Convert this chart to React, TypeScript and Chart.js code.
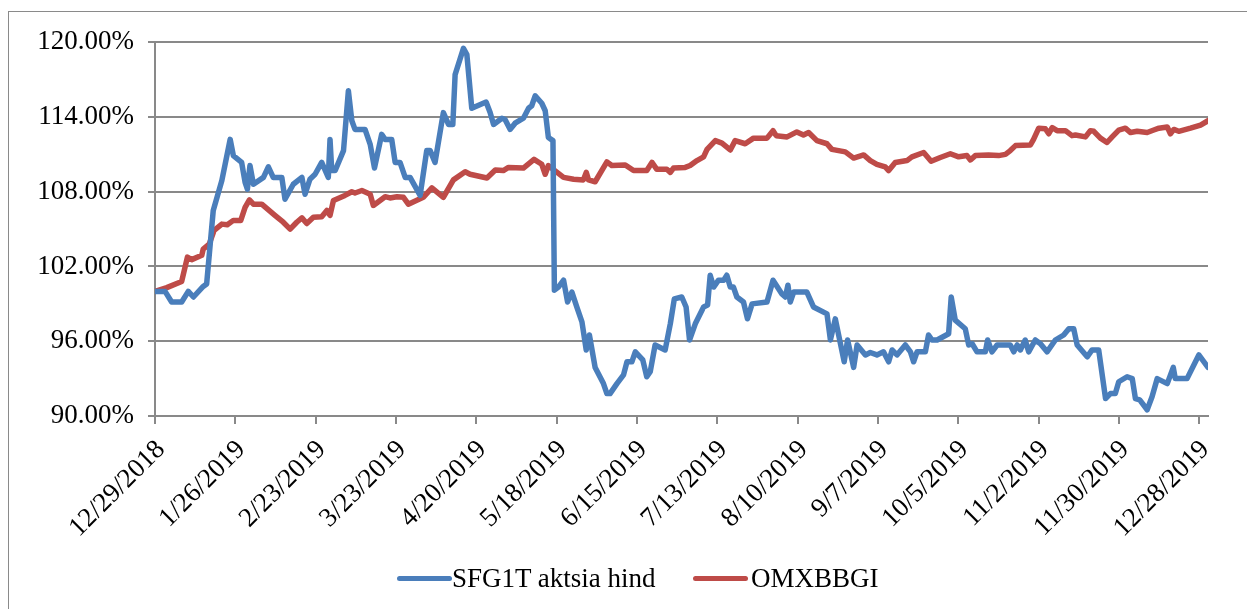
import React, { useEffect, useRef } from "react";
import { Chart, registerables } from "chart.js";

Chart.register(...registerables);

// Day offsets counted from 12/29/2018
const seriesNames = ["SFG1T aktsia hind", "OMXBBGI"];
const seriesColors = ["#4A7EBB", "#BE4B48"];

const tickLabels = [
  "12/29/2018", "1/26/2019", "2/23/2019", "3/23/2019", "4/20/2019", "5/18/2019", "6/15/2019",
  "7/13/2019", "8/10/2019", "9/7/2019", "10/5/2019", "11/2/2019", "11/30/2019", "12/28/2019",
];
const tickStepDays = 28;
const yTicks = [90, 96, 102, 108, 114, 120];

const sfgDays = [
  0, 3.5, 5.8, 9.3, 11.6, 13.4, 16.8, 18.0, 20.3, 23.3, 26.2, 27.3, 30.2, 31.4, 32.2, 33.1, 34.3, 37.8, 39.5, 41.2,
  44.2, 45.3, 48.2, 51.2, 52.3, 54.0, 55.8, 58.1, 60.4, 61.0, 61.6, 62.8, 65.7, 67.4, 68.6, 69.7, 73.2, 75.0, 76.5, 79.0,
  80.2, 82.5, 83.7, 85.4, 87.2, 88.9, 92.4, 94.7, 95.9, 97.6, 100.5, 102.3, 103.8, 104.6, 107.5, 108.7, 110.4, 115.4, 116.8, 118.0,
  120.9, 122.0, 123.8, 125.5, 128.4, 130.2, 131.3, 132.5, 134.8, 136.0, 137.1, 138.7, 139.2, 140.6, 142.4, 143.8, 145.3, 147.0, 148.8, 150.3,
  151.4, 153.4, 156.3, 157.5, 158.6, 161.0, 163.3, 164.5, 166.2, 167.4, 170.0, 171.4, 172.6, 174.3, 177.8, 179.6, 181.0, 183.6, 185.1, 186.3,
  188.3, 191.2, 192.6, 193.5, 194.7, 196.4, 198.2, 199.3, 200.5, 201.6, 202.8, 205.1, 206.5, 208.1, 213.3, 215.4, 218.5, 219.7, 220.6, 221.4,
  222.6, 227.2, 229.5, 234.2, 235.4, 237.1, 240.2, 241.4, 243.5, 244.7, 247.6, 249.3, 251.6, 253.9, 255.7, 256.9, 258.6, 261.5, 263.3, 264.4,
  265.6, 268.5, 269.6, 270.8, 272.6, 276.6, 277.5, 278.9, 282.4, 283.6, 284.8, 286.5, 289.4, 290.2, 291.7, 293.5, 298.1, 299.3, 300.5, 301.6,
  303.3, 304.5, 306.8, 308.6, 310.9, 313.8, 316.7, 318.5, 320.2, 321.4, 324.9, 326.6, 328.9, 331.3, 333.0, 334.7, 335.9, 338.8, 340.6, 341.7,
  343.2, 345.8, 347.5, 349.3, 352.8, 354.9, 355.6, 359.7, 363.8, 367.0,
];
const sfgValues = [
  100.0, 100.0, 99.15, 99.15, 100.0, 99.55, 100.4, 100.6, 106.5, 108.9, 112.2, 110.9, 110.35, 108.75, 108.2, 110.1, 108.6, 109.15, 110.0, 109.15,
  109.15, 107.4, 108.6, 109.15, 107.8, 109.0, 109.4, 110.35, 109.15, 112.2, 109.7, 109.7, 111.3, 116.1, 113.7, 113.0, 113.0, 111.8, 109.9, 112.6,
  112.2, 112.2, 110.35, 110.35, 109.15, 109.15, 107.7, 111.3, 111.3, 110.35, 114.35, 113.4, 113.4, 117.4, 119.5, 119.0, 114.7, 115.2, 114.35, 113.4,
  113.9, 113.8, 113.0, 113.5, 113.9, 114.7, 114.9, 115.7, 115.1, 114.5, 112.35, 112.1, 100.1, 100.35, 100.9, 99.15, 99.95, 98.75, 97.55, 95.3,
  96.5, 93.9, 92.6, 91.8, 91.8, 92.6, 93.3, 94.35, 94.35, 95.15, 94.5, 93.15, 93.55, 95.7, 95.3, 97.4, 99.4, 99.55, 98.75, 96.1,
  97.4, 98.75, 98.9, 101.3, 100.35, 100.9, 100.9, 101.3, 100.35, 100.35, 99.55, 99.15, 97.8, 99.0, 99.15, 100.9, 99.8, 99.55, 100.5, 99.15,
  99.95, 99.95, 98.75, 98.2, 96.1, 97.8, 94.35, 96.1, 93.9, 95.7, 94.9, 95.1, 94.9, 95.15, 94.35, 95.3, 94.9, 95.7, 95.15, 94.35,
  95.15, 95.15, 96.5, 96.1, 96.1, 96.6, 99.55, 97.7, 97.0, 95.7, 95.8, 95.15, 95.15, 96.1, 95.15, 95.7, 95.7, 95.15, 95.7, 95.3,
  96.1, 95.15, 96.1, 95.8, 95.15, 96.1, 96.5, 97.0, 97.0, 95.7, 94.75, 95.3, 95.3, 91.4, 91.8, 91.8, 92.75, 93.15, 93.0, 91.4,
  91.3, 90.5, 91.55, 93.0, 92.6, 93.9, 93.0, 93.0, 94.9, 93.9,
];

const omxDays = [
  0, 4.1, 9.3, 11.3, 12.8, 16.3, 16.8, 18.9, 20.6, 23.3, 25.2, 27.3, 29.9, 31.4, 32.9, 34.3, 37.2, 41.8, 44.7, 47.1,
  49.4, 51.2, 52.9, 55.2, 58.1, 59.9, 61.0, 62.2, 66.2, 68.6, 69.7, 72.1, 75.0, 76.1, 80.2, 81.9, 84.3, 86.6, 88.3, 93.5,
  96.5, 100.5, 104.0, 108.1, 109.8, 115.7, 118.6, 121.4, 123.2, 128.4, 132.1, 134.8, 136.0, 137.1, 142.4, 145.9, 149.3, 150.3, 151.1, 153.4,
  157.5, 159.2, 163.9, 166.8, 171.4, 173.2, 174.9, 178.4, 179.6, 180.7, 184.8, 186.5, 188.9, 191.2, 192.4, 195.3, 197.6, 200.5, 202.2, 205.7,
  208.6, 213.3, 215.4, 216.5, 220.3, 223.7, 226.0, 227.8, 230.7, 234.2, 235.9, 240.6, 243.5, 247.0, 249.3, 251.6, 254.5, 255.7, 258.0, 262.1,
  263.8, 267.9, 270.5, 273.7, 277.2, 280.1, 283.0, 284.2, 285.9, 290.5, 294.0, 296.4, 298.1, 299.9, 305.1, 306.2, 308.0, 310.3, 311.5, 312.7,
  314.4, 317.3, 319.6, 320.8, 324.3, 326.0, 327.2, 329.5, 331.8, 333.6, 335.9, 338.2, 340.0, 342.3, 345.8, 348.1, 349.9, 352.8, 353.9, 355.1,
  356.8, 360.9, 364.4, 367.0,
];
const omxValues = [
  100.0, 100.3, 100.8, 102.75, 102.55, 102.9, 103.4, 103.8, 104.9, 105.4, 105.35, 105.7, 105.7, 106.75, 107.35, 107.0, 107.0, 106.1, 105.55, 105.0,
  105.55, 105.9, 105.45, 105.95, 106.0, 106.5, 106.1, 107.3, 107.7, 108.0, 107.9, 108.1, 107.8, 106.9, 107.6, 107.5, 107.6, 107.55, 107.0, 107.55,
  108.3, 107.55, 108.95, 109.6, 109.4, 109.1, 109.75, 109.7, 109.95, 109.9, 110.6, 110.2, 109.4, 110.1, 109.15, 109.0, 108.95, 109.55, 108.95, 108.8,
  110.4, 110.1, 110.15, 109.7, 109.7, 110.35, 109.8, 109.8, 109.55, 109.9, 109.95, 110.1, 110.5, 110.8, 111.4, 112.1, 111.9, 111.35, 112.1, 111.85,
  112.3, 112.3, 112.9, 112.5, 112.4, 112.8, 112.55, 112.75, 112.1, 111.85, 111.4, 111.2, 110.7, 110.95, 110.5, 110.2, 110.0, 109.7, 110.35, 110.5,
  110.8, 111.15, 110.45, 110.75, 111.05, 110.8, 110.9, 110.55, 110.9, 110.95, 110.9, 111.0, 111.3, 111.7, 111.75, 112.2, 113.1, 113.05, 112.65, 113.15,
  112.9, 112.9, 112.5, 112.55, 112.4, 112.9, 112.85, 112.3, 111.95, 112.4, 112.95, 113.1, 112.75, 112.85, 112.75, 112.95, 113.1, 113.2, 112.65, 113.0,
  112.85, 113.1, 113.35, 113.7,
];

const FONT_FAMILY = "'Liberation Serif', 'Times New Roman', serif";
const GRID = "#898989";

export default function App() {
  const canvasRef = useRef<HTMLCanvasElement | null>(null);

  useEffect(() => {
    const canvas = canvasRef.current;
    if (!canvas) return;
    const font = { family: FONT_FAMILY, size: 27 };
    const chart = new Chart(canvas, {
      type: "line",
      data: {
        datasets: [
          {
            label: seriesNames[0],
            data: sfgDays.map((d, i) => ({ x: d, y: sfgValues[i] })),
            borderColor: seriesColors[0],
            backgroundColor: seriesColors[0],
            borderWidth: 5.5,
            pointRadius: 0,
            tension: 0,
            borderJoinStyle: "round",
            borderCapStyle: "round",
          },
          {
            label: seriesNames[1],
            data: omxDays.map((d, i) => ({ x: d, y: omxValues[i] })),
            borderColor: seriesColors[1],
            backgroundColor: seriesColors[1],
            borderWidth: 5.5,
            pointRadius: 0,
            tension: 0,
            borderJoinStyle: "round",
            borderCapStyle: "round",
          },
        ],
      },
      options: {
        responsive: false,
        animation: false,
        layout: { padding: { top: 29, right: 39, left: 0, bottom: 0 } },
        plugins: { legend: { display: false }, tooltip: { enabled: false } },
        scales: {
          x: {
            type: "linear",
            min: 0,
            max: 367,
            afterBuildTicks: (s: any) => {
              s.ticks = tickLabels.map((_, i) => ({ value: i * tickStepDays }));
            },
            afterFit: (s: any) => {
              s.height = 193;
            },
            ticks: {
              autoSkip: false,
              minRotation: 45,
              maxRotation: 45,
              padding: 10,
              labelOffset: 6,
              color: "#000",
              font,
              callback: (v: any) => tickLabels[Math.round(Number(v) / tickStepDays)] ?? "",
            },
            grid: { drawOnChartArea: false, drawTicks: true, tickLength: 8, color: GRID, lineWidth: 2 },
            border: { display: true, color: GRID, width: 2 },
          },
          y: {
            min: 90,
            max: 120,
            afterBuildTicks: (s: any) => {
              s.ticks = yTicks.map((v) => ({ value: v }));
            },
            afterFit: (s: any) => {
              s.width = 146;
            },
            ticks: {
              padding: 14,
              color: "#000",
              font,
              callback: (v: any) => Number(v).toFixed(2) + "%",
            },
            grid: { color: GRID, lineWidth: 2, tickLength: 7 },
            border: { display: true, color: GRID, width: 2 },
          },
        },
      },
    });
    return () => chart.destroy();
  }, []);

  const legendItems = [
    { left: 397, textLeft: 452 },
    { left: 693, textLeft: 751 },
  ];

  return (
    <div style={{ position: "fixed", left: 0, top: 0, width: "100vw", height: "100vh", overflow: "hidden", background: "#fff" }}>
      <div
        style={{
          position: "absolute",
          left: 8,
          top: 11,
          width: 1260,
          height: 620,
          border: "1px solid #8a8a8a",
          boxSizing: "border-box",
        }}
      >
        <canvas ref={canvasRef} width={1238} height={597} style={{ position: "absolute", left: 0, top: 0 }} />
      </div>
      {seriesNames.map((name, i) => (
        <React.Fragment key={name}>
          <div
            style={{
              position: "absolute",
              left: legendItems[i].left,
              top: 576,
              width: 55,
              height: 5,
              borderRadius: 3,
              background: seriesColors[i],
            }}
          />
          <div
            style={{
              position: "absolute",
              left: legendItems[i].textLeft,
              top: 562,
              fontFamily: FONT_FAMILY,
              fontSize: 27,
              lineHeight: "32px",
              color: "#000",
              whiteSpace: "nowrap",
            }}
          >
            {name}
          </div>
        </React.Fragment>
      ))}
    </div>
  );
}
